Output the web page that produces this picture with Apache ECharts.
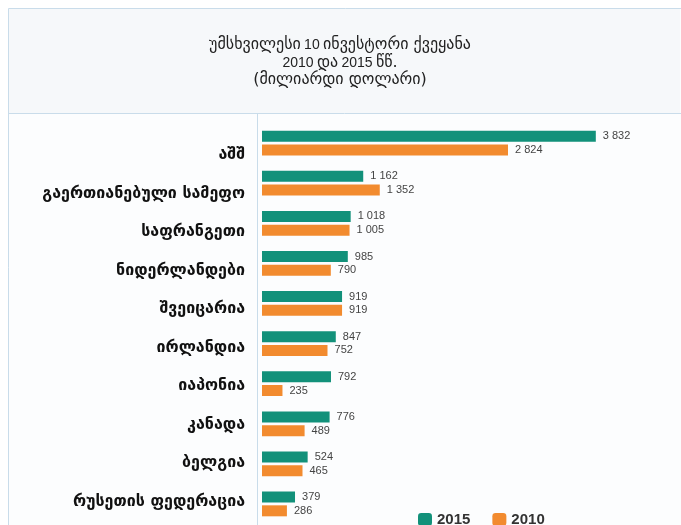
<!DOCTYPE html>
<html>
<head>
<meta charset="utf-8">
<style>
  html, body { margin: 0; padding: 0; background: #ffffff; }
  #main { width: 681px; height: 525px; }
</style>
<script src="https://cdn.jsdelivr.net/npm/echarts@6/dist/echarts.min.js"></script>
</head>
<body>
<div id="main"></div>
<script>
  // ქვეყნები და მნიშვნელობები (მილიარდი დოლარი)
  var countries = ['აშშ', 'გაერთიანებული სამეფო', 'საფრანგეთი', 'ნიდერლანდები', 'შვეიცარია',
                   'ირლანდია', 'იაპონია', 'კანადა', 'ბელგია', 'რუსეთის ფედერაცია'];
  var values2015 = [3832, 1162, 1018, 985, 919, 847, 792, 776, 524, 379];
  var values2010 = [2824, 1352, 1005, 790, 919, 752, 235, 489, 465, 286];
  var seriesNames = ['2015', '2010'];

  var geoFont = '"DejaVu Sans", "Noto Sans", sans-serif';
  var latinFont = '"Liberation Sans", Arial, sans-serif';

  function fmt(v) {
    return String(v).replace(/\B(?=(\d{3})+(?!\d))/g, ' ');
  }

  // სათაურის სტილები: ქართული ტექსტი ოდნავ დიდი, ციფრები პატარა
  var titleRich = {
    g: { fontSize: 16, fontFamily: geoFont, fill: '#222' },
    d: { fontSize: 14, fontFamily: latinFont, fill: '#222' }
  };

  function titleText(text, y) {
    return {
      type: 'text', silent: true, x: 340, y: y,
      style: { text: text, rich: titleRich, align: 'center', verticalAlign: 'middle' }
    };
  }

  var myChart = echarts.init(document.getElementById('main'));

  var labelStyle = {
    show: true,
    position: 'right',
    distance: 7,
    fontSize: 11,
    color: '#444',
    fontFamily: latinFont,
    formatter: function (p) { return fmt(p.value); }
  };

  var option = {
    backgroundColor: '#ffffff',
    animation: false,
    graphic: [
      { type: 'rect', silent: true, z: -10,
        shape: { x: 8.5, y: 8.5, width: 680, height: 530 },
        style: { fill: '#fcfdfe', stroke: '#c9dcea', lineWidth: 1 } },
      { type: 'rect', silent: true, z: -9,
        shape: { x: 9, y: 9, width: 671, height: 104 },
        style: { fill: '#f6f8fa' } },
      { type: 'line', silent: true, z: -8,
        shape: { x1: 8, y1: 113.5, x2: 681, y2: 113.5 },
        style: { stroke: '#c9dcea', lineWidth: 1 } },
      { type: 'line', silent: true, z: -8,
        shape: { x1: 257.5, y1: 113, x2: 257.5, y2: 525 },
        style: { stroke: '#c9dcea', lineWidth: 1 } },
      titleText('{g|უმსხვილესი} {d|10} {g|ინვესტორი ქვეყანა}', 45),
      titleText('{d|2010} {g|და} {d|2015} {g|წწ.}', 63),
      titleText('{g|(მილიარდი დოლარი)}', 80)
    ],
    legend: {
      data: seriesNames,
      left: 413,
      top: 507,
      itemWidth: 14,
      itemHeight: 13,
      itemGap: 22,
      icon: 'roundRect',
      textStyle: {
        fontSize: 15,
        fontWeight: 'bold',
        color: '#333',
        fontFamily: latinFont
      }
    },
    // grid 0: ზოლები; grid 1: მხოლოდ ქვეყნების სახელები (ოდნავ განსხვავებული ბიჯით)
    grid: [
      { left: 262, right: 27, top: 123, bottom: 1 },
      { left: 262, right: 27, top: 136, bottom: 4 }
    ],
    xAxis: [
      { type: 'value', gridIndex: 0, min: 0, max: 4500, show: false },
      { type: 'value', gridIndex: 1, min: 0, max: 4500, show: false }
    ],
    yAxis: [
      {
        type: 'category',
        gridIndex: 0,
        data: countries,
        inverse: true,
        axisLine: { show: false },
        axisTick: { show: false },
        axisLabel: { show: false }
      },
      {
        type: 'category',
        gridIndex: 1,
        data: countries,
        inverse: true,
        axisLine: { show: false },
        axisTick: { show: false },
        axisLabel: {
          margin: 17,
          fontSize: 16,
          fontWeight: 'bold',
          color: '#111',
          fontFamily: geoFont
        }
      }
    ],
    series: [
      {
        name: seriesNames[0],
        type: 'bar',
        data: values2015,
        barWidth: 11,
        barGap: '25%',
        itemStyle: { color: '#12917a' },
        label: labelStyle
      },
      {
        name: seriesNames[1],
        type: 'bar',
        data: values2010,
        barWidth: 11,
        itemStyle: { color: '#f28b2f' },
        label: labelStyle
      }
    ]
  };

  myChart.setOption(option);
</script>
</body>
</html>
